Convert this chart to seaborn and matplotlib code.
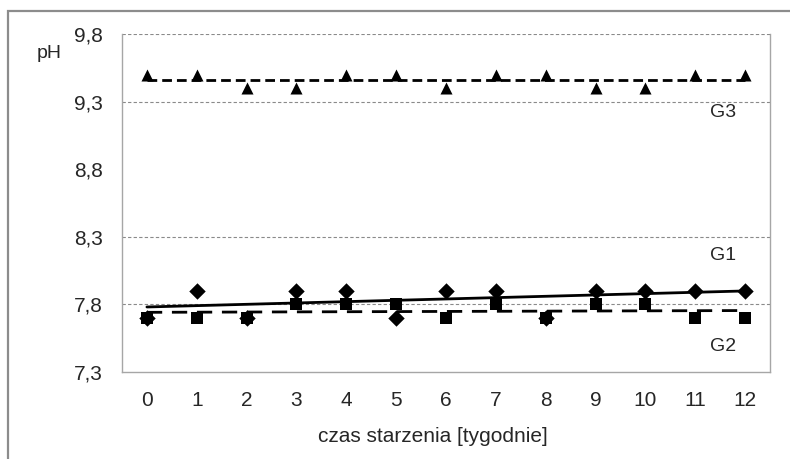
import numpy as np
import pandas as pd
import seaborn as sns
import matplotlib.pyplot as plt
from matplotlib.patches import Rectangle

weeks = list(range(13))
ph_g1 = [7.7, 7.9, 7.7, 7.9, 7.9, 7.7, 7.9, 7.9, 7.7, 7.9, 7.9, 7.9, 7.9]
ph_g2 = [7.7, 7.7, 7.7, 7.8, 7.8, 7.8, 7.7, 7.8, 7.7, 7.8, 7.8, 7.7, 7.7]
ph_g3 = [9.5, 9.5, 9.4, 9.4, 9.5, 9.5, 9.4, 9.5, 9.5, 9.4, 9.4, 9.5, 9.5]
y_ticks = [7.3, 7.8, 8.3, 8.8, 9.3, 9.8]
y_ticklabels = ['7,3', '7,8', '8,3', '8,8', '9,3', '9,8']
grid_levels = [7.8, 8.3, 9.3, 9.8]

df = pd.DataFrame({'tydzien': weeks, 'G1': ph_g1, 'G2': ph_g2, 'G3': ph_g3})

sns.set_theme(style='white')
plt.rcParams['font.family'] = ['Liberation Sans', 'DejaVu Sans']

fig = plt.figure(figsize=(7.9, 4.59), dpi=100)
ax = fig.add_axes([122/790, 1 - 371.7/459, 648/790, 337.7/459])

# outer frame like the excel chart area
fig.add_artist(Rectangle((8/790, -0.05), 1.2, 1 - 11/459 + 0.05, transform=fig.transFigure,
                         fill=False, edgecolor='#8c8c8c', lw=1.6))

for lv in grid_levels:
    ax.axhline(lv, color='#8a8a8a', lw=0.8, ls=(0, (3, 2)), zorder=0)

# trend lines
sns.regplot(data=df, x='tydzien', y='G1', scatter=False, ci=None, ax=ax,
            line_kws={'color': 'black', 'lw': 2.0})
sns.regplot(data=df, x='tydzien', y='G2', scatter=False, ci=None, ax=ax,
            line_kws={'color': 'black', 'lw': 2.0, 'ls': (0, (5.5, 3.5))})
sns.regplot(data=df, x='tydzien', y='G3', scatter=False, ci=None, ax=ax,
            line_kws={'color': 'black', 'lw': 2.0, 'ls': (0, (3.5, 1.8))})

# points
sns.scatterplot(data=df, x='tydzien', y='G1', marker='D', s=70, color='black',
                edgecolor='black', linewidth=0, ax=ax, zorder=3)
sns.scatterplot(data=df, x='tydzien', y='G2', marker='s', s=70, color='black',
                edgecolor='black', linewidth=0, ax=ax, zorder=3)
sns.scatterplot(data=df, x='tydzien', y='G3', marker='^', s=75, color='black',
                edgecolor='black', linewidth=0, ax=ax, zorder=3)

ax.set_xlim(-0.5, 12.5)
ax.set_ylim(7.3, 9.8)
ax.set_yticks(y_ticks)
ax.set_yticklabels(y_ticklabels, fontsize=15)
ax.set_xticks(weeks)
ax.set_xticklabels([str(w) for w in weeks], fontsize=15)
ax.set_xticks(np.arange(-0.5, 13, 1), minor=True)
ax.tick_params(axis='x', which='major', length=0, pad=14)
ax.tick_params(axis='x', which='minor', length=5, color='#8c8c8c', width=1, direction='out')
ax.tick_params(axis='y', length=5, color='#8c8c8c', width=1, direction='out', pad=9)

for side in ['left', 'bottom', 'right']:
    ax.spines[side].set_color('#a6a6a6')
    ax.spines[side].set_linewidth(1.0)
ax.spines['top'].set_visible(False)

ax.set_xlabel('czas starzenia [tygodnie]', fontsize=15)
ax.xaxis.set_label_coords((433 - 122) / 648, -(437 - 371.7) / 337.7)
ax.xaxis.label.set_va('center')
ax.set_ylabel('')

fig.text(49/790, 1 - 53/459, 'pH', fontsize=14, ha='center', va='center')

ax.text(11.56, 9.22, 'G3', fontsize=14, ha='center', va='center')
ax.text(11.56, 8.16, 'G1', fontsize=14, ha='center', va='center')
ax.text(11.56, 7.49, 'G2', fontsize=14, ha='center', va='center')

fig.savefig('out.png', dpi=100)
